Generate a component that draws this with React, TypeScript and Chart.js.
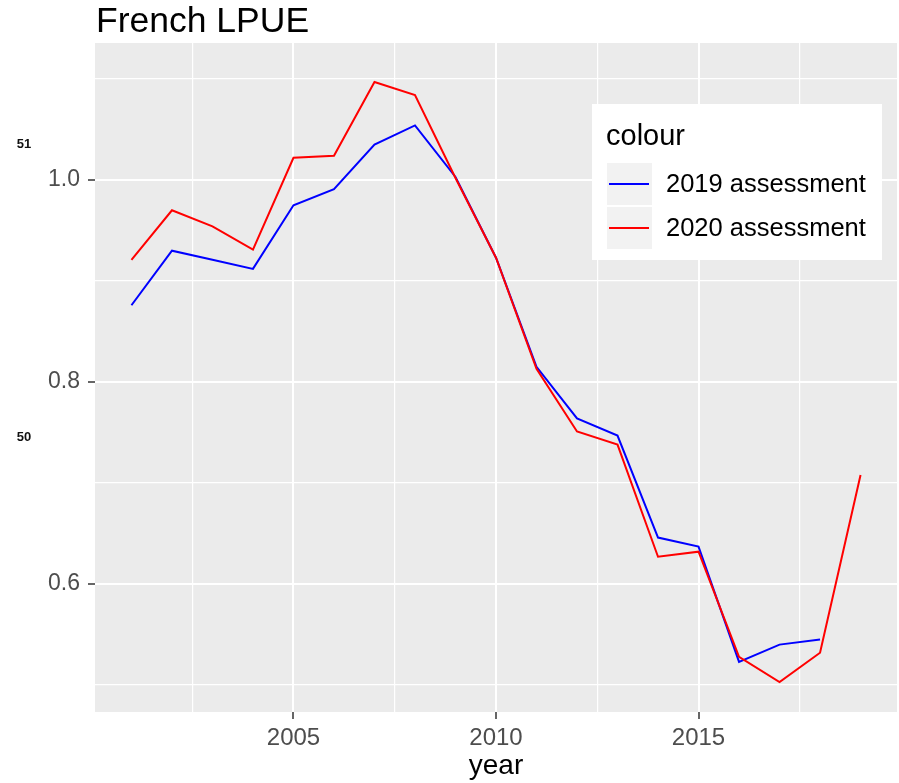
import React, { useEffect, useRef } from "react";
import { Chart, registerables } from "chart.js";

Chart.register(...registerables);

const years = [2001, 2002, 2003, 2004, 2005, 2006, 2007, 2008, 2009, 2010, 2011, 2012, 2013, 2014, 2015, 2016, 2017, 2018, 2019];
const lpue2019 = [0.876, 0.930, 0.921, 0.912, 0.975, 0.991, 1.035, 1.054, 1.003, 0.923, 0.815, 0.764, 0.747, 0.646, 0.637, 0.523, 0.540, 0.545];
const lpue2020 = [0.921, 0.970, 0.954, 0.931, 1.022, 1.024, 1.097, 1.084, 1.002, 0.923, 0.813, 0.751, 0.738, 0.627, 0.632, 0.528, 0.503, 0.532, 0.708];
const seriesLabels = ["2019 assessment", "2020 assessment"];
const seriesColors = ["#0000ff", "#ff0000"];
const majorX = [2005, 2010, 2015];
const minorX = [2002.5, 2007.5, 2012.5, 2017.5];
const majorY = [0.6, 0.8, 1.0];
const minorY = [0.5, 0.7, 0.9, 1.1];
const titleText = "French LPUE";
const xTitle = "year";
const legendTitle = "colour";
const sideLabels = ["51", "50"];

const FONT = "'Liberation Sans', Arial, sans-serif";

const isIn = (arr: number[], v: number) => arr.some((a) => Math.abs(a - v) < 1e-6);

const decorPlugin = {
  id: "decor",
  beforeDraw(chart: any) {
    const { ctx, chartArea } = chart;
    ctx.save();
    ctx.fillStyle = "#ebebeb";
    ctx.fillRect(chartArea.left, chartArea.top, chartArea.right - chartArea.left, chartArea.bottom - chartArea.top);
    ctx.restore();
  },
  afterDraw(chart: any) {
    const { ctx } = chart;
    ctx.save();
    // title
    ctx.fillStyle = "#000000";
    ctx.font = `35.5px ${FONT}`;
    ctx.textAlign = "left";
    ctx.textBaseline = "alphabetic";
    ctx.fillText(titleText, 96, 32);

    // stray side labels
    ctx.font = `bold 13px ${FONT}`;
    ctx.textAlign = "center";
    ctx.textBaseline = "middle";
    ctx.fillStyle = "#111111";
    ctx.fillText(sideLabels[0], 24, 144);
    ctx.fillText(sideLabels[1], 24, 437);

    // legend
    ctx.fillStyle = "#ffffff";
    ctx.fillRect(592, 104, 290, 156);
    ctx.fillStyle = "#000000";
    ctx.textAlign = "left";
    ctx.textBaseline = "middle";
    ctx.font = `29px ${FONT}`;
    ctx.fillText(legendTitle, 606, 137);
    const ds = chart.data.datasets;
    ds.forEach((d: any, i: number) => {
      const cy = 184 + i * 44;
      ctx.fillStyle = "#f2f2f2";
      ctx.fillRect(607, cy - 21, 45, 42);
      ctx.strokeStyle = d.borderColor;
      ctx.lineWidth = 2;
      ctx.beginPath();
      ctx.moveTo(609, cy);
      ctx.lineTo(649, cy);
      ctx.stroke();
      ctx.fillStyle = "#000000";
      ctx.font = `25.5px ${FONT}`;
      ctx.fillText(d.label, 666, cy + 1);
    });
    ctx.restore();
  },
};

export default function App() {
  const ref = useRef<HTMLCanvasElement>(null);
  useEffect(() => {
    if (!ref.current) return;
    const chart = new Chart(ref.current, {
      type: "line",
      data: {
        datasets: [
          {
            label: seriesLabels[0],
            data: lpue2019.map((v, i) => ({ x: years[i], y: v })),
            borderColor: seriesColors[0],
            backgroundColor: seriesColors[0],
            borderWidth: 2,
            pointRadius: 0,
            tension: 0,
            order: 2,
          },
          {
            label: seriesLabels[1],
            data: lpue2020.map((v, i) => ({ x: years[i], y: v })),
            borderColor: seriesColors[1],
            backgroundColor: seriesColors[1],
            borderWidth: 2,
            pointRadius: 0,
            tension: 0,
            order: 1,
          },
        ],
      },
      options: {
        animation: false,
        responsive: false,
        devicePixelRatio: 1,
        layout: { padding: { left: 0, top: 43, right: 2, bottom: 0 } },
        plugins: { legend: { display: false }, tooltip: { enabled: false }, title: { display: false } },
        scales: {
          x: {
            type: "linear",
            min: 2000.1,
            max: 2019.9,
            afterFit: (s: any) => {
              s.height = 71;
            },
            afterBuildTicks: (s: any) => {
              s.ticks = [...majorX, ...minorX].sort((a, b) => a - b).map((v) => ({ value: v }));
            },
            ticks: {
              autoSkip: false,
              maxRotation: 0,
              padding: 5,
              color: "#4d4d4d",
              font: { family: FONT, size: 24 },
              callback: (v: any) => (isIn(majorX, Number(v)) ? String(v) : ""),
            },
            grid: {
              color: "#ffffff",
              lineWidth: (c: any) => (c.tick && isIn(majorX, c.tick.value) ? 2 : 1.2),
              tickColor: (c: any) => (c.tick && isIn(majorX, c.tick.value) ? "#333333" : "rgba(0,0,0,0)"),
              tickLength: 7,
              tickWidth: 1.5,
            },
            border: { display: false },
            title: {
              display: true,
              text: xTitle,
              color: "#000000",
              font: { family: FONT, size: 28 },
              padding: { top: 0, bottom: 0 },
            },
          },
          y: {
            type: "linear",
            min: 0.4733,
            max: 1.1356,
            afterFit: (s: any) => {
              s.width = 95;
            },
            afterBuildTicks: (s: any) => {
              s.ticks = [...majorY, ...minorY].sort((a, b) => a - b).map((v) => ({ value: v }));
            },
            ticks: {
              autoSkip: false,
              padding: 8,
              color: "#4d4d4d",
              font: { family: FONT, size: 23 },
              callback: (v: any) => (isIn(majorY, Number(v)) ? Number(v).toFixed(1) : ""),
            },
            grid: {
              color: "#ffffff",
              lineWidth: (c: any) => (c.tick && isIn(majorY, c.tick.value) ? 2 : 1.2),
              tickColor: (c: any) => (c.tick && isIn(majorY, c.tick.value) ? "#333333" : "rgba(0,0,0,0)"),
              tickLength: 7,
              tickWidth: 1.5,
            },
            border: { display: false },
          },
        },
      },
      plugins: [decorPlugin],
    });
    return () => chart.destroy();
  }, []);

  return (
    <div style={{ position: "absolute", left: 0, top: 0, width: 899, height: 783, background: "#ffffff" }}>
      <canvas ref={ref} width={899} height={783} style={{ width: 899, height: 783, display: "block" }} />
    </div>
  );
}
